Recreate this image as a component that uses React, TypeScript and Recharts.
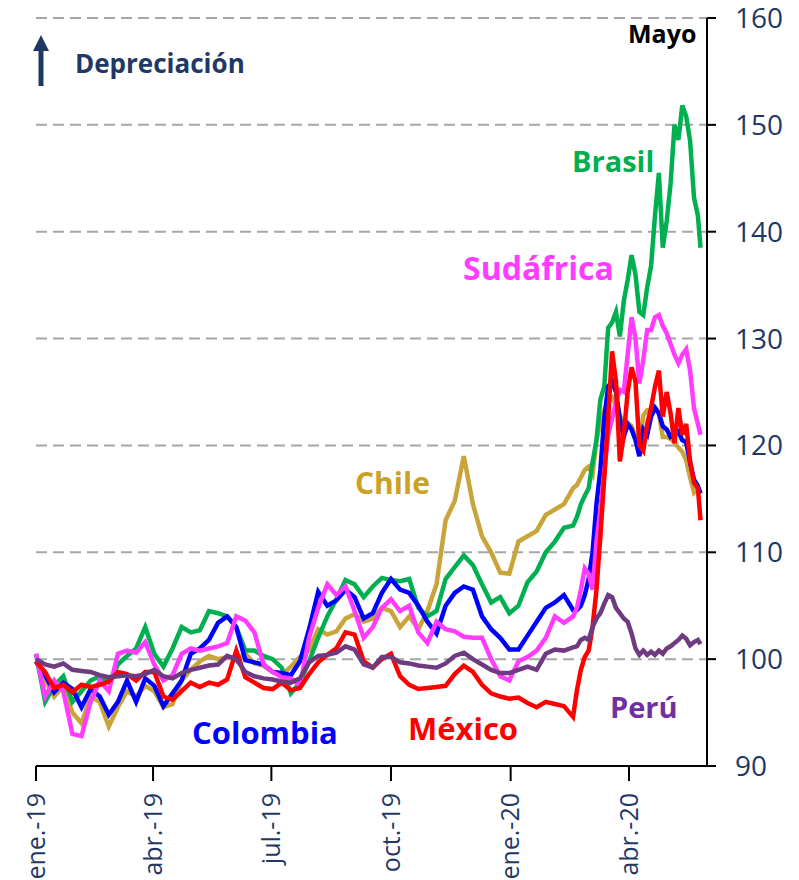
import React from "react"
import { LineChart, Line, XAxis, YAxis, CartesianGrid } from "recharts"

// days since 1 Jan 2019 (weekly, then every 3 days from late Feb 2020)
const days = [
  0, 7, 14, 21, 28, 35, 42, 49, 56, 63,
  70, 77, 84, 91, 98, 105, 112, 119, 126, 133,
  140, 147, 154, 161, 168, 175, 182, 189, 196, 203,
  210, 217, 224, 231, 238, 245, 252, 259, 266, 273,
  280, 287, 294, 301, 308, 315, 322, 329, 336, 343,
  350, 357, 364, 371, 378, 385, 392, 399, 406, 413,
  416, 419, 422, 425, 428, 431, 434, 437, 440, 443,
  446, 449, 452, 455, 458, 461, 464, 467, 470, 473,
  476, 479, 482, 485, 488, 491, 494, 497, 500, 503,
  506, 509, 511,
]

const brasil = [
  100.5, 96.0, 97.5, 98.4, 96.0, 97.0, 98.0, 98.4, 97.8, 99.5,
  100.3, 101.0, 103.0, 100.5, 99.3, 101.0, 103.0, 102.5, 102.7, 104.5,
  104.3, 104.0, 103.0, 100.8, 100.8, 100.3, 100.0, 99.2, 96.8, 97.8,
  99.8, 102.0, 104.0, 105.6, 107.4, 107.0, 105.8, 106.8, 107.6, 107.4,
  107.3, 107.5, 104.8, 104.0, 104.5, 107.5, 108.6, 109.7, 108.8, 107.0,
  105.3, 105.8, 104.3, 105.0, 107.2, 108.2, 110.0, 111.0, 112.3, 112.5,
  113.3, 114.5, 115.3, 116.0, 118.4, 120.5, 124.3, 125.5, 131.0, 131.5,
  132.5, 130.2, 133.5, 135.5, 137.8, 136.0, 132.5, 132.2, 134.8, 136.8,
  141.5, 145.5, 138.5, 141.0, 144.5, 150.0, 148.6, 151.8, 150.8, 148.5,
  143.2, 141.5, 138.5,
]

const colombia = [
  99.8, 98.5, 96.9, 97.8, 97.2, 95.5, 97.2, 96.5, 94.8, 96.0,
  98.0, 96.0, 98.2, 97.5, 95.6, 96.8, 98.0, 100.5, 101.0, 101.8,
  103.4, 104.0, 103.0, 99.9, 99.7, 99.5, 98.8, 98.7, 98.5, 99.8,
  102.8, 106.3, 105.0, 105.5, 106.5, 105.8, 103.8, 104.3, 106.2, 107.5,
  106.5, 106.2, 105.0, 103.5, 102.4, 105.0, 106.2, 106.8, 106.5, 104.0,
  102.8, 102.0, 100.9, 100.9, 102.2, 103.5, 104.8, 105.3, 106.0, 104.6,
  104.6, 105.0, 106.0, 107.5, 110.0, 114.5, 117.7, 122.5, 125.5, 126.0,
  125.0, 122.5, 120.8, 122.0, 121.5, 120.5, 119.0, 121.5, 121.0, 122.7,
  123.5, 123.0, 121.8, 121.5, 120.8, 121.0, 121.3, 120.5, 120.3, 118.4,
  116.8, 116.2, 115.5,
]

const sudafrica = [
  100.5, 96.5, 98.0, 97.0, 93.0, 92.8, 96.0, 98.0, 97.0, 100.5,
  100.8, 100.6, 101.6, 99.5, 98.0, 98.5, 100.5, 101.0, 100.8, 101.0,
  101.2, 101.5, 104.0, 103.6, 102.5, 99.5, 98.8, 98.3, 98.2, 97.5,
  102.0, 104.8, 107.0, 106.0, 106.8, 104.5, 102.0, 103.0, 104.8, 105.6,
  104.5, 105.0, 102.5, 101.5, 103.5, 102.8, 102.6, 102.1, 102.0, 102.0,
  100.0, 98.4, 98.0, 99.8, 100.2, 100.8, 102.0, 104.0, 103.4, 104.0,
  104.8, 106.5, 108.5, 108.0, 106.5, 111.0, 114.0, 117.5, 121.0, 122.5,
  124.0, 125.2, 125.0, 128.5, 132.0, 130.0, 125.8, 128.0, 130.8, 130.8,
  132.0, 132.2, 131.2, 130.5, 129.5, 128.5, 127.7, 128.5, 129.0, 127.0,
  123.5, 122.0, 121.0,
]

const mexico = [
  99.8, 98.8, 97.3, 97.6, 96.9, 97.6, 97.4, 97.6, 97.9, 98.8,
  98.6, 98.0, 98.8, 98.8, 96.5, 96.2, 97.0, 97.8, 97.4, 97.8,
  97.6, 98.1, 100.8, 98.3, 97.8, 97.3, 97.2, 97.8, 97.1, 97.3,
  98.6, 99.7, 100.4, 101.0, 102.5, 102.3, 99.8, 99.2, 100.0, 100.5,
  98.4, 97.6, 97.2, 97.3, 97.4, 97.5, 98.6, 99.4, 98.8, 97.6,
  96.8, 96.5, 96.3, 96.4, 95.9, 95.5, 96.0, 95.8, 95.6, 94.6,
  97.1, 99.0, 100.2, 100.8, 103.0, 106.5, 111.5, 117.0, 122.5, 128.8,
  126.0, 118.5, 121.0, 125.0, 127.3, 126.0, 120.0, 119.5, 122.0, 123.5,
  125.5, 127.0, 122.7, 125.0, 123.0, 120.2, 123.5, 121.0, 122.0, 118.5,
  116.5, 116.0, 113.0,
]

const chile = [
  99.8, 98.0, 96.5, 97.5, 95.0, 94.0, 96.5, 96.0, 93.7, 95.5,
  97.0, 96.5, 97.5, 97.0, 95.5, 95.8, 98.0, 99.0, 99.8, 100.3,
  100.0, 100.2, 100.0, 100.5, 99.6, 99.4, 98.8, 98.5, 99.3, 100.2,
  100.8, 102.8, 102.3, 102.6, 103.8, 104.2, 103.5, 103.8, 104.8, 104.5,
  103.0, 104.0, 102.8, 104.5, 107.0, 113.0, 114.8, 119.0, 114.5, 111.5,
  110.0, 108.1, 108.0, 111.0, 111.5, 112.0, 113.5, 114.0, 114.5, 116.0,
  116.3, 117.0, 117.7, 118.0, 117.3, 120.5, 122.1, 123.3, 124.2, 124.5,
  123.8, 122.8, 122.1, 122.1, 121.8, 120.8, 119.8, 122.8, 123.3, 123.4,
  123.6, 123.0, 120.8, 120.8, 120.6, 120.3, 119.8, 119.4, 118.6, 117.0,
  115.6, 116.0, 115.5,
]

const peru = [
  100.0, 99.5, 99.3, 99.6, 99.0, 98.9, 98.8, 98.5, 98.3, 98.4,
  98.5, 98.4, 98.6, 99.0, 98.4, 98.2, 98.7, 99.0, 99.2, 99.4,
  99.5, 100.3, 100.0, 98.8, 98.4, 98.2, 98.1, 97.9, 97.8, 98.2,
  99.7, 100.3, 100.4, 100.6, 101.2, 100.9, 99.5, 99.2, 100.2, 100.2,
  99.7, 99.6, 99.4, 99.3, 99.2, 99.6, 100.3, 100.6, 100.0, 99.5,
  99.0, 98.7, 98.7, 99.0, 99.3, 99.0, 100.5, 100.9, 100.8, 101.1,
  101.2, 101.8, 102.0, 101.8, 103.0, 103.8, 104.3, 105.2, 106.0, 105.8,
  104.8, 104.3, 103.8, 103.5, 102.4, 101.0, 100.4, 100.8, 100.4, 100.7,
  100.4, 100.8, 100.5, 101.0, 101.2, 101.5, 101.8, 102.2, 101.9, 101.3,
  101.6, 101.8, 101.4,
]

const tickDays = [0, 90, 181, 273, 365, 456]
const tickLabels = ["ene.-19", "abr.-19", "jul.-19", "oct.-19", "ene.-20", "abr.-20"]
const yTicks = [90, 100, 110, 120, 130, 140, 150, 160]

const data = days.map((d, i) => ({
  day: d,
  brasil: brasil[i],
  colombia: colombia[i],
  sudafrica: sudafrica[i],
  mexico: mexico[i],
  chile: chile[i],
  peru: peru[i],
}))

const NAVY = "#1F3864"

const XTick = ({ x, y, payload }: any) => {
  const i = tickDays.indexOf(payload.value)
  return (
    <text
      x={x}
      y={y}
      transform={`rotate(-90, ${x}, ${y})`}
      textAnchor="end"
      dy="0.35em"
      fill={NAVY}
      fontSize={25}
    >
      {tickLabels[i]}
    </text>
  )
}

export default function App() {
  return (
    <div style={{ position: "relative", width: 799, height: 880, fontFamily: "'Open Sans', sans-serif", background: "#fff" }}>
      <style>{`body{margin:0}`}</style>
      <LineChart
        width={799}
        height={880}
        data={data}
        margin={{ top: 18, right: 0, bottom: 0, left: 36 }}
      >
        <CartesianGrid vertical={false} stroke="#A6A6A6" strokeWidth={2} strokeDasharray="11 6" />
        <XAxis
          dataKey="day"
          type="number"
          domain={[0, 516]}
          ticks={tickDays}
          interval={0}
          height={114}
          tickSize={15}
          tickMargin={12}
          tick={<XTick />}
          axisLine={{ stroke: "#000", strokeWidth: 2 }}
          tickLine={{ stroke: "#000", strokeWidth: 2 }}
        />
        <YAxis
          orientation="right"
          width={92}
          domain={[90, 160]}
          ticks={yTicks}
          interval={0}
          tickSize={9}
          tickMargin={19}
          tick={{ fill: NAVY, fontSize: 28, textAnchor: "start" }}
          axisLine={{ stroke: "#000", strokeWidth: 2 }}
          tickLine={{ stroke: "#000", strokeWidth: 2 }}
        />
        <Line dataKey="chile" stroke="#C9A43A" strokeWidth={4.5} dot={false} isAnimationActive={false} />
        <Line dataKey="brasil" stroke="#00B050" strokeWidth={4.5} dot={false} isAnimationActive={false} />
        <Line dataKey="colombia" stroke="#0000FF" strokeWidth={4.5} dot={false} isAnimationActive={false} />
        <Line dataKey="sudafrica" stroke="#FF3CFF" strokeWidth={4.5} dot={false} isAnimationActive={false} />
        <Line dataKey="mexico" stroke="#FF0000" strokeWidth={4.5} dot={false} isAnimationActive={false} />
        <Line dataKey="peru" stroke="#6E3A80" strokeWidth={4.5} dot={false} isAnimationActive={false} />
      </LineChart>

      <svg width={799} height={880} style={{ position: "absolute", left: 0, top: 0, pointerEvents: "none" }}>
        <line x1={41} y1={86} x2={41} y2={46} stroke={NAVY} strokeWidth={5} />
        <polygon points="33,51 41,35 49,51" fill={NAVY} />
        <text x={75} y={73} fill={NAVY} fontSize={26} fontWeight="bold">Depreciación</text>
        <text x={628} y={43} fill="#000" fontSize={25} fontWeight="bold">Mayo</text>
        <text x={572} y={172} fill="#00B050" fontSize={29} fontWeight="bold">Brasil</text>
        <text x={463} y={280} fill="#FF3CFF" fontSize={32} fontWeight="bold">Sudáfrica</text>
        <text x={355} y={494} fill="#C9A227" fontSize={30} fontWeight="bold">Chile</text>
        <text x={192} y={744} fill="#0000FF" fontSize={31} fontWeight="bold">Colombia</text>
        <text x={408} y={740} fill="#FF0000" fontSize={31} fontWeight="bold">México</text>
        <text x={610} y={718} fill="#7030A0" fontSize={29} fontWeight="bold">Perú</text>
      </svg>
    </div>
  )
}
